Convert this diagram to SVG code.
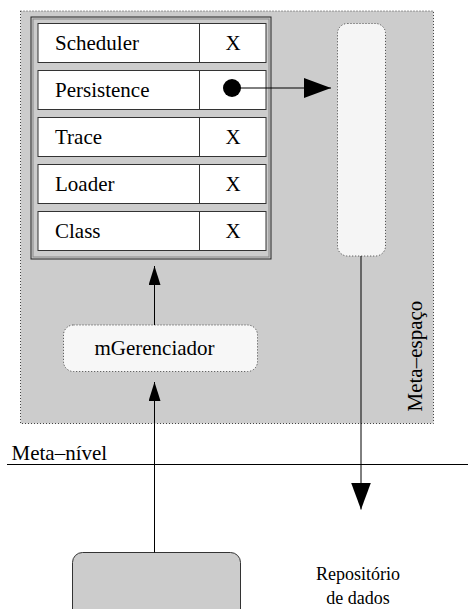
<svg xmlns="http://www.w3.org/2000/svg" width="468" height="609" viewBox="0 0 468 609">
<style>
  text { fill: #000; }
  .lbl { font-size: 21px; }
  .dotted { stroke: #444; stroke-width: 1; stroke-dasharray: 1 2; }
  .row { fill: #fff; stroke: #333; stroke-width: 1; }
  .conn { fill: none; stroke: #000; stroke-width: 1; }
</style>
<defs>
  <marker id="bigArrow" markerUnits="userSpaceOnUse" markerWidth="28" markerHeight="20" refX="27" refY="10" orient="auto">
    <path d="M0,0 L27,10 L0,20 z" fill="#000"/>
  </marker>
  <marker id="smallArrow" markerUnits="userSpaceOnUse" markerWidth="20" markerHeight="12" refX="19" refY="6" orient="auto">
    <path d="M0,0 L19,6 L0,12 z" fill="#000"/>
  </marker>
</defs>
<rect width="468" height="609" fill="#fff"/>

<g font-family="'Liberation Serif', 'Times New Roman', Times, serif">
<g id="meta-espaco">
  <rect x="20.5" y="11" width="413" height="412.5" fill="#cccccc" class="dotted"/>
  <text class="lbl" transform="translate(421.5,411.5) rotate(-90)">Meta–espaço</text>
</g>

<g id="stack">
  <rect x="31" y="17" width="240" height="242" fill="#cccccc" stroke="#222" stroke-width="1"/>
  <rect x="33" y="19" width="236" height="238" fill="none" stroke="#888" stroke-width="1"/>
</g>

<g id="row-scheduler">
  <rect class="row" x="38" y="23.5" width="228" height="39"/>
  <line x1="199.5" y1="23.5" x2="199.5" y2="62.5" stroke="#333"/>
  <text class="lbl" x="55" y="49.5">Scheduler</text>
  <text class="lbl" x="233" y="49.5" text-anchor="middle">X</text>
</g>
<g id="row-persistence">
  <rect class="row" x="38" y="70.5" width="228" height="39"/>
  <line x1="199.5" y1="70.5" x2="199.5" y2="109.5" stroke="#333"/>
  <text class="lbl" x="55" y="96.5">Persistence</text>
  <circle cx="232" cy="88" r="9" fill="#000"/>
</g>
<g id="row-trace">
  <rect class="row" x="38" y="117.5" width="228" height="39"/>
  <line x1="199.5" y1="117.5" x2="199.5" y2="156.5" stroke="#333"/>
  <text class="lbl" x="55" y="143.5">Trace</text>
  <text class="lbl" x="233" y="143.5" text-anchor="middle">X</text>
</g>
<g id="row-loader">
  <rect class="row" x="38" y="164.5" width="228" height="39"/>
  <line x1="199.5" y1="164.5" x2="199.5" y2="203.5" stroke="#333"/>
  <text class="lbl" x="55" y="190.5">Loader</text>
  <text class="lbl" x="233" y="190.5" text-anchor="middle">X</text>
</g>
<g id="row-class">
  <rect class="row" x="38" y="211.5" width="228" height="39"/>
  <line x1="199.5" y1="211.5" x2="199.5" y2="250.5" stroke="#333"/>
  <text class="lbl" x="55" y="237.5">Class</text>
  <text class="lbl" x="233" y="237.5" text-anchor="middle">X</text>
</g>

<g id="persistence-target">
  <rect x="337.5" y="23.5" width="48" height="232.5" rx="10" ry="10" fill="#f5f5f5" class="dotted"/>
</g>

<g id="mGerenciador">
  <rect x="63.5" y="325" width="194" height="46.5" rx="10" ry="10" fill="#f7f7f7" class="dotted"/>
  <text class="lbl" x="154.5" y="354.5" text-anchor="middle">mGerenciador</text>
</g>

<g id="meta-nivel">
  <line x1="7" y1="464.5" x2="468" y2="464.5" stroke="#000" stroke-width="1"/>
  <text class="lbl" x="11.5" y="459.5">Meta–nível</text>
</g>

<g id="repositorio">
  <rect x="72.5" y="552.5" width="168" height="70" rx="10" ry="10" fill="#cccccc" stroke="#333" stroke-width="1"/>
  <text x="358" y="580" font-size="18" text-anchor="middle">Repositório</text>
  <text x="358" y="604" font-size="18" text-anchor="middle">de dados</text>
</g>

<g id="connectors">
  <line class="conn" x1="240" y1="88" x2="331" y2="88" marker-end="url(#bigArrow)"/>
  <line class="conn" x1="361" y1="256" x2="361" y2="509.5" stroke="#555" marker-end="url(#bigArrow)"/>
  <line class="conn" x1="154.5" y1="325" x2="154.5" y2="266" marker-end="url(#smallArrow)"/>
  <line class="conn" x1="154.5" y1="552.5" x2="154.5" y2="382" marker-end="url(#smallArrow)"/>
</g>
</g>
</svg>
